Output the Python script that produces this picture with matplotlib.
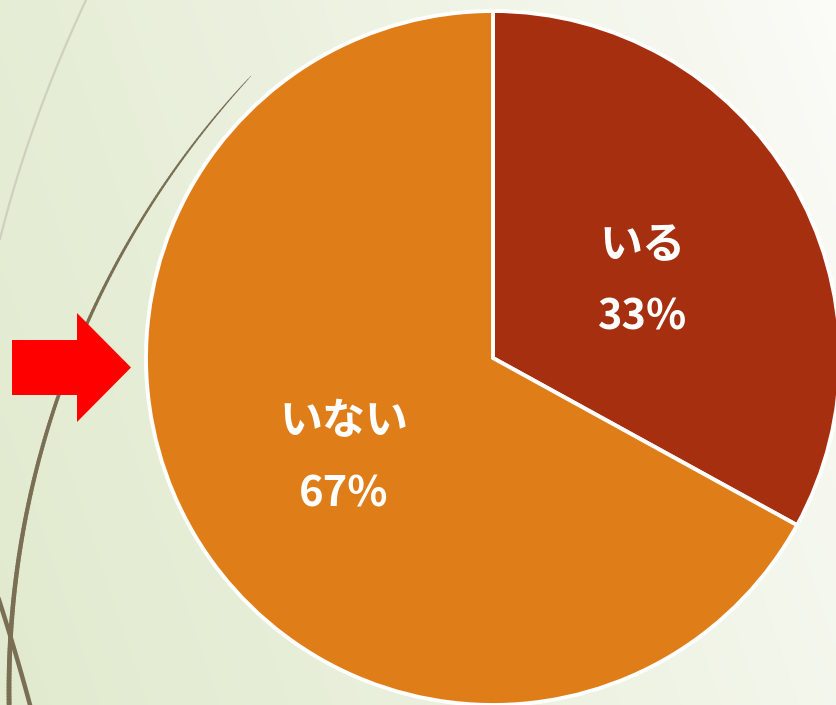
import numpy as np
import matplotlib
matplotlib.use("Agg")
import matplotlib.pyplot as plt
from matplotlib.collections import LineCollection
from matplotlib.patches import FancyArrow

plt.rcParams['font.family'] = ['Noto Sans CJK JP', 'DejaVu Sans']

# ---- data ----
categories = ["いる", "いない"]
values = [33, 67]
colors = ["#A52F0F", "#DF7E19"]

W, H = 836, 705
fig = plt.figure(figsize=(W / 100, H / 100), dpi=100)
ax = fig.add_axes([0, 0, 1, 1])

# background gradient (white top-right -> pale green bottom-left)
xx, yy = np.meshgrid(np.linspace(0, 1, 300), np.linspace(0, 1, 250))
t = np.clip(0.78 * (1 - xx) + 0.22 * yy, 0, 1)  # yy=0 top
t = t ** 0.8
c0 = np.array([0xFC, 0xFC, 0xF9]) / 255
c1 = np.array([0xE1, 0xEA, 0xCE]) / 255
img = c0[None, None, :] * (1 - t[..., None]) + c1[None, None, :] * t[..., None]
ax.imshow(img, extent=(0, W, 0, H), origin='upper', zorder=0, aspect='auto',
          interpolation='bilinear')

def to_up(y):
    return H - np.asarray(y)

# light curve
ly = np.linspace(0, 240, 60)
coef = np.polyfit([0, 77, 127, 187, 238], [86, 53, 33, 15, 0], 2)
lx = np.polyval(coef, ly)
ax.plot(lx, to_up(ly), color="#CDD1BE", lw=1.6, zorder=1, solid_capstyle='butt')

# dark tapered arc
cy, cx, R = 690, 909, 900
ay = np.linspace(76, 706, 200)
axx = cx - np.sqrt(R ** 2 - (ay - cy) ** 2)
pts = np.column_stack([axx, to_up(ay)]).reshape(-1, 1, 2)
segs = np.concatenate([pts[:-1], pts[1:]], axis=1)
u = np.linspace(0, 1, len(segs))
lws = 0.3 + 3.2 * np.sqrt(u)
lc = LineCollection(segs, linewidths=lws, colors="#7A6F55", zorder=1, capstyle='round')
ax.add_collection(lc)

# second dark line at bottom-left
sy = np.linspace(590, 706, 30)
sx = (sy - 603) * 30 / 102 - 0.00025 * (sy - 603) * (sy - 706)
ax.plot(sx, to_up(sy), color="#7A6F55", lw=3.2, zorder=1)

# pie
center = (493, H - 358)
radius = 347
wedges, _ = ax.pie(values, colors=colors, startangle=90, counterclock=False,
                   center=center, radius=radius,
                   wedgeprops=dict(edgecolor='white', linewidth=2.8))
for w in wedges:
    w.set_zorder(2)

# labels
for w, cat, v in zip(wedges, categories, values):
    ang = np.deg2rad((w.theta1 + w.theta2) / 2)
    r = 0.5 * radius
    bx = center[0] + r * np.cos(ang)
    by = center[1] + r * np.sin(ang)
    ax.text(bx, by + 25, cat, ha='center', va='center', color='white',
            fontsize=31, fontweight='bold', zorder=3)
    ax.text(bx, by - 48, f"{v}%", ha='center', va='center', color='white',
            fontsize=30, fontweight='bold', zorder=3)

# red arrow
arrow = FancyArrow(12, H - 367.5, 119, 0, width=55, head_width=109,
                   head_length=54, length_includes_head=True,
                   color="#FF0000", zorder=3, lw=0)
ax.add_patch(arrow)

ax.set_xlim(0, W)
ax.set_ylim(0, H)
ax.set_aspect('auto')
ax.axis('off')

fig.savefig("out.png", dpi=100)
